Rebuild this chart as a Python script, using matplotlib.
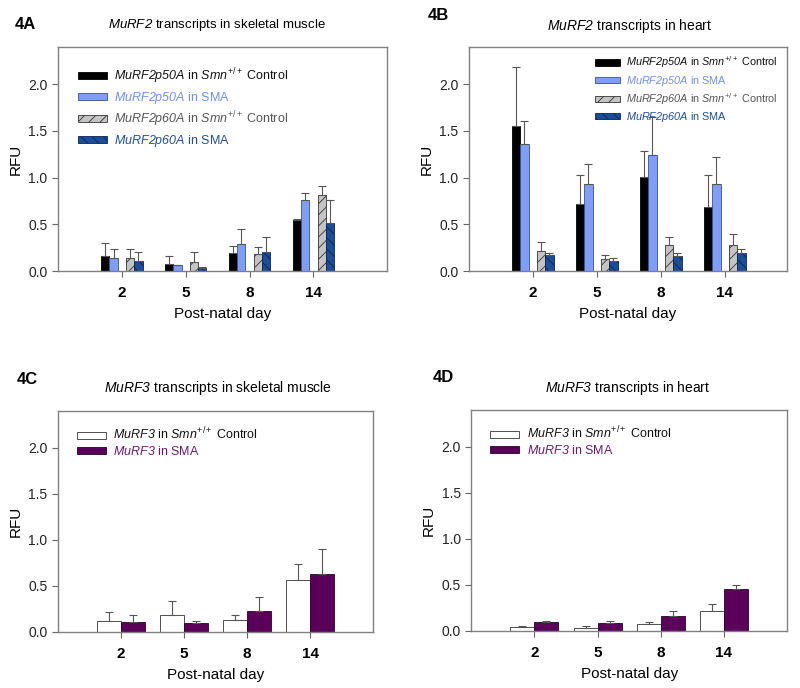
import numpy as np
import matplotlib
matplotlib.use('Agg')
import matplotlib.pyplot as plt
from matplotlib.container import BarContainer
from matplotlib.ticker import FormatStrFormatter

plt.rcParams['font.family'] = ['Liberation Sans', 'DejaVu Sans']
# everything inside $...$ is italic (gene names), \mathsf gives upright text
plt.rcParams['mathtext.fontset'] = 'custom'
plt.rcParams['mathtext.rm'] = 'Liberation Sans:italic'
plt.rcParams['mathtext.it'] = 'Liberation Sans:italic'
plt.rcParams['mathtext.sf'] = 'Liberation Sans'
plt.rcParams['hatch.linewidth'] = 0.6

days = ['2', '5', '8', '14']

# 4A MuRF2 skeletal muscle
a_p50_ctrl = [0.16, 0.08, 0.19, 0.55]
a_p50_ctrl_err = [0.14, 0.08, 0.08, 0.01]
a_p50_sma = [0.14, 0.06, 0.285, 0.76]
a_p50_sma_err = [0.10, 0.01, 0.16, 0.075]
a_p60_ctrl = [0.14, 0.10, 0.18, 0.81]
a_p60_ctrl_err = [0.10, 0.10, 0.08, 0.10]
a_p60_sma = [0.11, 0.035, 0.20, 0.51]
a_p60_sma_err = [0.09, 0.005, 0.16, 0.255]

# 4B MuRF2 heart
b_p50_ctrl = [1.55, 0.72, 1.01, 0.69]
b_p50_ctrl_err = [0.635, 0.305, 0.27, 0.335]
b_p50_sma = [1.36, 0.93, 1.245, 0.93]
b_p50_sma_err = [0.25, 0.22, 0.405, 0.29]
b_p60_ctrl = [0.22, 0.125, 0.275, 0.275]
b_p60_ctrl_err = [0.09, 0.045, 0.085, 0.125]
b_p60_sma = [0.17, 0.11, 0.165, 0.195]
b_p60_sma_err = [0.02, 0.035, 0.025, 0.045]

# 4C MuRF3 skeletal muscle
c_ctrl = [0.12, 0.19, 0.135, 0.56]
c_ctrl_err = [0.10, 0.15, 0.055, 0.18]
c_sma = [0.11, 0.10, 0.23, 0.63]
c_sma_err = [0.07, 0.015, 0.145, 0.275]

# 4D MuRF3 heart
d_ctrl = [0.047, 0.036, 0.08, 0.22]
d_ctrl_err = [0.011, 0.014, 0.014, 0.07]
d_sma = [0.098, 0.083, 0.167, 0.46]
d_sma_err = [0.012, 0.022, 0.05, 0.036]

BLACK = '#000000'
LBLUE = '#7f9ef5'
GREY = '#c4c4c4'
DBLUE = '#1a4d9a'
PURPLE = '#5a005a'

x = np.arange(1, len(days) + 1)


def style_axes(ax, xmax):
    ax.set_xlim(0, xmax)
    ax.set_ylim(0, 2.4)
    ax.set_yticks([0, 0.5, 1.0, 1.5, 2.0])
    ax.yaxis.set_major_formatter(FormatStrFormatter('%.1f'))
    ax.set_xticks(x)
    ax.set_xticklabels(days, fontweight='bold', fontsize=11)
    ax.tick_params(axis='y', labelsize=10, length=4, color='#666666', labelcolor='#222222')
    ax.tick_params(axis='x', length=4, color='#666666', pad=7)
    for s in ax.spines.values():
        s.set_color('#808080')
        s.set_linewidth(1.0)
    ax.set_xlabel('Post-natal day', fontsize=11, labelpad=5)
    ax.set_ylabel('RFU', fontsize=11)


def bars(ax, pos, vals, errs, w, color, edge, hatch=None):
    ax.bar(pos, vals, w, color=color, edgecolor=edge, hatch=hatch, linewidth=0.6, zorder=2)
    ax.errorbar(pos, vals, yerr=[np.zeros(len(vals)), errs], fmt='none', ecolor='#555555',
                elinewidth=0.8, capsize=3, capthick=0.8, zorder=3)


def bar_handles(ax):
    return [c for c in ax.containers if isinstance(c, BarContainer)]


def murf2_panel(ax, d, xmax, legfs, legloc, anchor):
    w = 0.13
    bars(ax, x - 2 * w, d[0], d[1], w, BLACK, '#000000')
    bars(ax, x - w, d[2], d[3], w, LBLUE, '#3a4f9a')
    bars(ax, x + w, d[4], d[5], w, GREY, '#333333', '///')
    bars(ax, x + 2 * w, d[6], d[7], w, DBLUE, '#0a2550', '\\\\\\')
    style_axes(ax, xmax)
    labels = [r'$MuRF2p50A$ in $Smn^{\mathsf{+/+}}$ Control',
              r'$MuRF2p50A$ in SMA',
              r'$MuRF2p60A$ in $Smn^{\mathsf{+/+}}$ Control',
              r'$MuRF2p60A$ in SMA']
    leg = ax.legend(bar_handles(ax), labels, loc=legloc, bbox_to_anchor=anchor,
                    frameon=False, fontsize=legfs, handlelength=2.3, handleheight=0.5,
                    handletextpad=0.6, labelspacing=0.3, borderaxespad=0)
    for t, c in zip(leg.get_texts(), ['#111111', '#6f8fef', '#555555', '#1f4e9a']):
        t.set_color(c)


def murf3_panel(ax, ctrl, ctrl_err, sma, sma_err):
    w = 0.38
    bars(ax, x - w / 2, ctrl, ctrl_err, w, 'white', '#333333')
    bars(ax, x + w / 2, sma, sma_err, w, PURPLE, '#2a002a')
    style_axes(ax, 5.0)
    labels = [r'$MuRF3$ in $Smn^{\mathsf{+/+}}$ Control', r'$MuRF3$ in SMA']
    leg = ax.legend(bar_handles(ax), labels, loc='upper left', bbox_to_anchor=(0.045, 0.955),
                    frameon=False, fontsize=9, handlelength=2.3, handleheight=0.5,
                    handletextpad=0.6, labelspacing=0.2, borderaxespad=0)
    for t, c in zip(leg.get_texts(), ['#111111', '#6a1a6a']):
        t.set_color(c)


fig = plt.figure(figsize=(8, 6.88), dpi=100)
axA = fig.add_axes([0.0725, 0.606, 0.411, 0.326])
axB = fig.add_axes([0.586, 0.606, 0.3975, 0.326])
axC = fig.add_axes([0.0725, 0.0814, 0.394, 0.321])
axD = fig.add_axes([0.589, 0.083, 0.395, 0.321])

murf2_panel(axA, [a_p50_ctrl, a_p50_ctrl_err, a_p50_sma, a_p50_sma_err,
                  a_p60_ctrl, a_p60_ctrl_err, a_p60_sma, a_p60_sma_err],
            5.15, 9, 'upper left', (0.045, 0.935))
murf2_panel(axB, [b_p50_ctrl, b_p50_ctrl_err, b_p50_sma, b_p50_sma_err,
                  b_p60_ctrl, b_p60_ctrl_err, b_p60_sma, b_p60_sma_err],
            4.97, 7.8, 'upper right', (0.985, 0.985))
murf3_panel(axC, c_ctrl, c_ctrl_err, c_sma, c_sma_err)
murf3_panel(axD, d_ctrl, d_ctrl_err, d_sma, d_sma_err)

fig.text(0.019, 0.964, '4A', fontsize=12, fontweight='bold', va='center')
fig.text(0.535, 0.978, '4B', fontsize=12, fontweight='bold', va='center')
fig.text(0.021, 0.449, '4C', fontsize=12, fontweight='bold', va='center')
fig.text(0.541, 0.451, '4D', fontsize=12, fontweight='bold', va='center')

fig.text(0.271, 0.964, r'$MuRF2$ transcripts in skeletal muscle', fontsize=9.5, ha='center', va='center')
fig.text(0.7875, 0.962, r'$MuRF2$ transcripts in heart', fontsize=10, ha='center', va='center')
fig.text(0.2725, 0.436, r'$MuRF3$ transcripts in skeletal muscle', fontsize=10, ha='center', va='center')
fig.text(0.785, 0.436, r'$MuRF3$ transcripts in heart', fontsize=10, ha='center', va='center')

fig.savefig('out.png', dpi=100, facecolor='white')
